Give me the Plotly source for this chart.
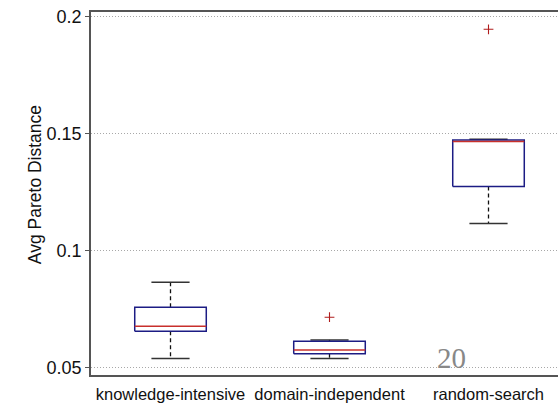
import plotly.graph_objects as go

# Summary statistics for each search strategy
categories = ["knowledge-intensive", "domain-independent", "random-search"]
q1 = [0.0657, 0.0561, 0.1275]
median = [0.0678, 0.0577, 0.1468]
q3 = [0.0759, 0.0614, 0.1474]
whisker_low = [0.0541, 0.0541, 0.1117]
whisker_high = [0.0866, 0.0620, 0.1477]
outliers = [[], [0.0717], [0.1947]]

y_ticks = [0.05, 0.1, 0.15, 0.2]
y_tick_text = ["0.05", "0.1", "0.15", "0.2"]

BOX_HALF = 0.225
CAP_HALF = 0.12
BOX_COLOR = "#1c1c84"
MEDIAN_COLOR = "#c8302c"
WHISKER_COLOR = "#111111"
CAP_COLOR = "#333333"
FONT = "Liberation Sans, Arial, sans-serif"

positions = list(range(1, len(categories) + 1))

box_x, box_y = [], []
med_x, med_y = [], []
wh_x, wh_y = [], []
cap_x, cap_y = [], []
out_x, out_y = [], []

for i, p in enumerate(positions):
    # box outline
    box_x += [p - BOX_HALF, p + BOX_HALF, p + BOX_HALF, p - BOX_HALF, p - BOX_HALF, None]
    box_y += [q1[i], q1[i], q3[i], q3[i], q1[i], None]
    # median
    med_x += [p - BOX_HALF, p + BOX_HALF, None]
    med_y += [median[i], median[i], None]
    # whiskers
    wh_x += [p, p, None, p, p, None]
    wh_y += [q3[i], whisker_high[i], None, q1[i], whisker_low[i], None]
    # caps
    cap_x += [p - CAP_HALF, p + CAP_HALF, None, p - CAP_HALF, p + CAP_HALF, None]
    cap_y += [whisker_high[i], whisker_high[i], None, whisker_low[i], whisker_low[i], None]
    for v in outliers[i]:
        out_x.append(p)
        out_y.append(v)

fig = go.Figure()
fig.add_trace(go.Scatter(x=wh_x, y=wh_y, mode="lines", showlegend=False, hoverinfo="skip",
                         line=dict(color=WHISKER_COLOR, width=1.3, dash="4px,3px")))
fig.add_trace(go.Scatter(x=cap_x, y=cap_y, mode="lines", showlegend=False, hoverinfo="skip",
                         line=dict(color=CAP_COLOR, width=1.5)))
fig.add_trace(go.Scatter(x=box_x, y=box_y, mode="lines", showlegend=False, hoverinfo="skip",
                         line=dict(color=BOX_COLOR, width=1.5)))
fig.add_trace(go.Scatter(x=med_x, y=med_y, mode="lines", showlegend=False, hoverinfo="skip",
                         line=dict(color=MEDIAN_COLOR, width=1.5)))
fig.add_trace(go.Scatter(x=out_x, y=out_y, mode="markers", showlegend=False,
                         marker=dict(symbol="cross-thin", size=7,
                                     line=dict(color="#b01c1c", width=1.1))))

fig.update_layout(
    width=558, height=406,
    margin=dict(l=91, r=0, t=12, b=31),
    paper_bgcolor="white", plot_bgcolor="white",
    font=dict(family=FONT, color="#111111"),
    xaxis=dict(
        range=[0.5, 0.5 + 467 / 159], tickvals=positions, ticktext=categories,
        showgrid=False, zeroline=False, showline=True, linecolor="#555555", linewidth=1.5,
        mirror=True, ticks="", ticklabelstandoff=3,
        tickfont=dict(size=16.5, family=FONT, color="#111111"),
    ),
    yaxis=dict(
        range=[0.047, 0.2021], tickvals=y_ticks, ticktext=y_tick_text,
        showgrid=True, gridcolor="#a8a8a8", gridwidth=1, griddash="1px,2px",
        zeroline=False, showline=True, linecolor="#555555", linewidth=1.5,
        ticks="outside", ticklen=4, tickcolor="#555555",
        tickfont=dict(size=18, family=FONT, color="#111111"),
    ),
    annotations=[
        dict(text="Avg Pareto Distance", xref="paper", yref="paper", x=0, xshift=-56,
             y=0.523, textangle=-90, showarrow=False, xanchor="center", yanchor="middle",
             font=dict(size=17.5, family=FONT, color="#111111")),
        dict(text="20", xref="paper", yref="paper", x=0.773, y=0.046, showarrow=False,
             xanchor="center", yanchor="middle",
             font=dict(size=29, family="Liberation Serif, Times New Roman, serif", color="#888888")),
    ],
)

fig.write_html("out.html")
